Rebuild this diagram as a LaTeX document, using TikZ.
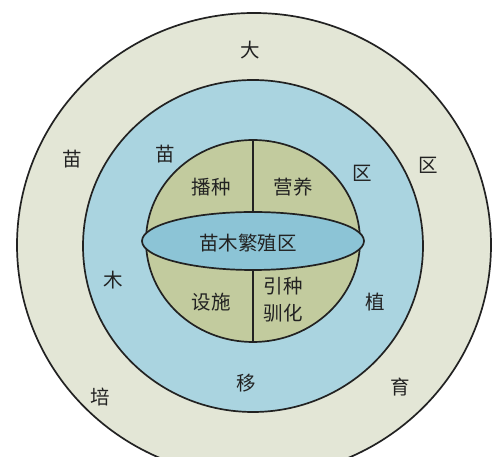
\documentclass[tikz,border=0pt]{standalone}
\usepackage{fontspec}
\setmainfont{Noto Sans CJK SC}
\usepackage{tikz}
\usetikzlibrary{shapes.geometric,positioning}
\definecolor{ringouter}{RGB}{227,230,214}
\definecolor{ringmid}{RGB}{170,212,224}
\definecolor{spherefill}{RGB}{194,203,158}
\definecolor{corefill}{RGB}{140,196,214}
\definecolor{ink}{RGB}{34,34,34}
\tikzset{
  zone/.style={draw=ink, line width=1.7pt, ellipse, inner sep=0pt},
  lbl/.style={text=ink, font=\fontsize{19.5pt}{27pt}\selectfont, inner sep=0pt, align=center},
  divider/.style={draw=ink, line width=1.7pt}
}

\begin{document}
\begin{tikzpicture}[x=1pt, y=1pt]
    \useasboundingbox (0,0) rectangle (500,457);
    \clip (0,0) rectangle (500,457);
    % rings
    \node[zone, fill=ringouter, minimum width=474pt, minimum height=464pt] (outer) at (254,212) {};
    \node[zone, fill=ringmid, minimum width=340pt, minimum height=332pt] (middle) at (253,211) {};
    % sphere and core
    \node[zone, fill=spherefill, minimum width=214pt, minimum height=202pt] (sphere) at (253,216) {};
    \node[zone, fill=corefill, minimum width=222pt, minimum height=58pt] (core) at (253,216) {};

    % dividers
    \draw[divider] (sphere.north) -- (core.north);
    \draw[divider] (core.south) -- (sphere.south);

    % outer ring labels
    \node[lbl] (oDa) at (250,407) {大};
    \node[lbl] (oMiao) at (72,298) {苗};
    \node[lbl] (oQu) at (428,292) {区};
    \node[lbl] (oPei) at (100,60) {培};
    \node[lbl] (oYu) at (400,70) {育};

    % middle ring labels
    \node[lbl] (mMiao) at (165,303) {苗};
    \node[lbl] (mQu) at (362,284) {区};
    \node[lbl] (mMu) at (113,177) {木};
    \node[lbl] (mZhi) at (375,155) {植};
    \node[lbl] (mYi) at (246,74) {移};

    % sphere labels
    \node[lbl] (sow) at (211,270) {播种};
    \node[lbl] (veg) at (293,270) {营养};
    \node[lbl] (coreText) at (248,214) {苗木繁殖区};
    \node[lbl] (facility) at (211,155) {设施};
    \node[lbl] (intro) at (283,157) {引种\\驯化};
  \end{tikzpicture}
\end{document}
